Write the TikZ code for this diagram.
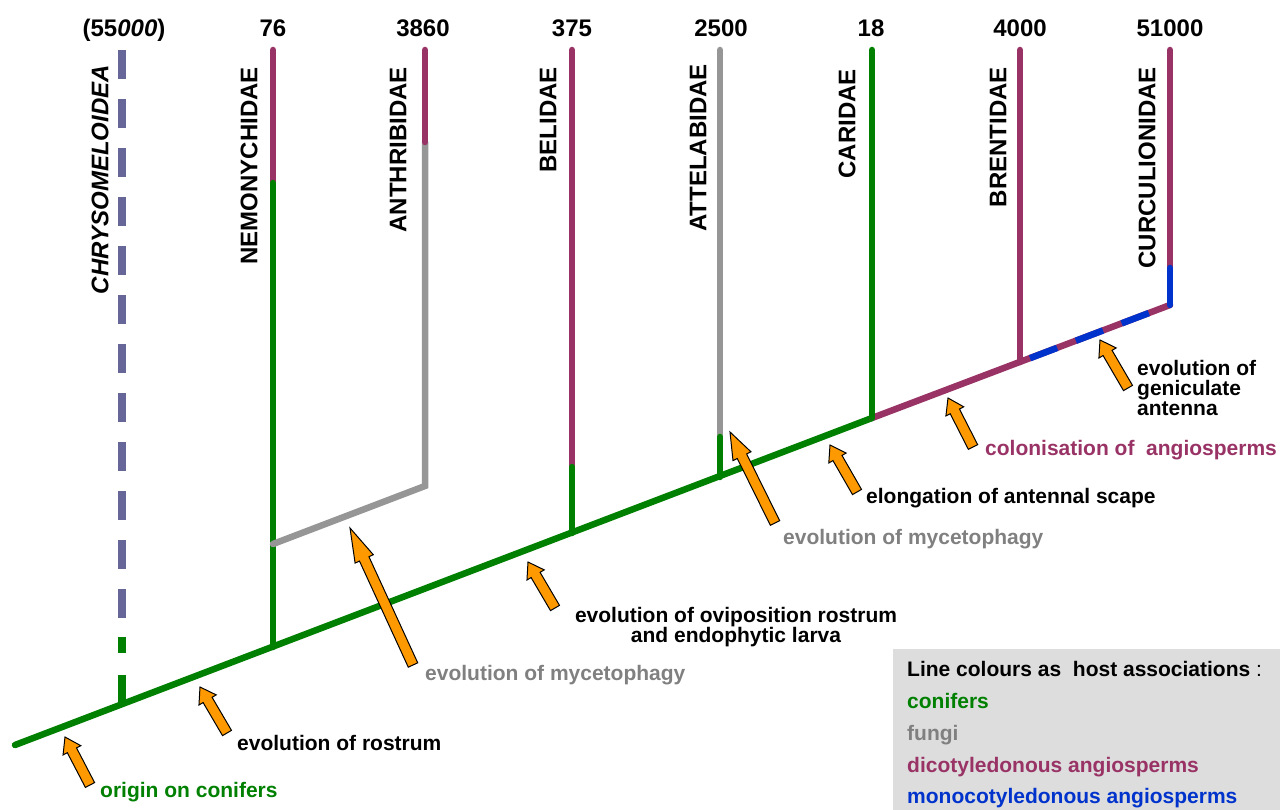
\documentclass[tikz,border=0pt]{standalone}
\usepackage{fontspec}
\setmainfont{Liberation Sans}
\usetikzlibrary{calc}
\definecolor{conifer}{HTML}{008000}
\definecolor{dicot}{HTML}{993366}
\definecolor{monocot}{HTML}{0033CC}
\definecolor{fungus}{HTML}{969696}
\definecolor{fungustext}{HTML}{808080}
\definecolor{chrysocol}{HTML}{666699}
\definecolor{evoorange}{HTML}{FF9900}
\definecolor{keygray}{HTML}{DDDDDD}
\tikzset{
  branch/.style={line width=6.5pt, line cap=round},
  taxon/.style={rotate=90, anchor=east, inner sep=0pt, font=\fontsize{24}{24}\selectfont\bfseries},
  count/.style={anchor=base, inner sep=0pt, font=\fontsize{24}{24}\selectfont\bfseries},
  note/.style={inner sep=0pt, font=\fontsize{21}{20}\selectfont\bfseries},
  keyline/.style={anchor=base west, inner sep=0pt, font=\fontsize{21}{21}\selectfont\bfseries},
  evo/.style={fill=evoorange, draw=black, line width=1pt, line join=miter}
}

\begin{document}
\begin{tikzpicture}[x=1pt, y=-1pt]
	\useasboundingbox (0,0) rectangle (1280,810);
	\fill[keygray] (893,649) rectangle (1280,810);

	% branch points on the backbone
	\coordinate (root) at (15,745);
	\coordinate (chry) at (122,705);
	\coordinate (nemo) at (273,647);
	\coordinate (beli) at (572,533);
	\coordinate (atte) at (720,477);
	\coordinate (cari) at (872,418);
	\coordinate (bren) at (1020,362);
	\coordinate (curc) at (1170,305);
	% tops and colour changes
	\coordinate (chrytop) at (122,50);
	\coordinate (chryswitch) at (122,620);
	\coordinate (chrygreen) at (122,637);
	\coordinate (nemotop) at (273,50);
	\coordinate (nemoswitch) at (273,183);
	\coordinate (anth) at (273,544);
	\coordinate (anjoin) at (425,486);
	\coordinate (anthswitch) at (425,142);
	\coordinate (anthtop) at (425,50);
	\coordinate (belitop) at (572,50);
	\coordinate (beliswitch) at (572,467);
	\coordinate (attetop) at (720,50);
	\coordinate (atteswitch) at (720,437);
	\coordinate (caritop) at (872,50);
	\coordinate (brentop) at (1020,50);
	\coordinate (curctop) at (1170,50);
	\coordinate (curcswitch) at (1170,268);

	% backbone
	\draw[branch, conifer] (root) -- (cari);
	\draw[branch, dicot] (cari) -- (curc);
	\draw[monocot, line width=6.5pt, dash pattern=on 29pt off 20pt] ($(bren)!0.067!(curc)$) -- ($(bren)!0.867!(curc)$);

	% Chrysomeloidea
	\draw[chrysocol, line width=7.5pt, dash pattern=on 29pt off 20pt] (chrytop) -- (chryswitch);
	\draw[conifer, line width=7.5pt, dash pattern=on 16pt off 22pt on 40pt off 10pt] (chrygreen) -- (chry);

	% weevil families
	\draw[branch, dicot] (nemotop) -- (nemoswitch);
	\draw[branch, conifer] (nemoswitch) -- (nemo);
	\draw[branch, fungus] (anth) -- (anjoin) -- (anthswitch);
	\draw[branch, dicot] (anthtop) -- (anthswitch);
	\draw[branch, dicot] (belitop) -- (beliswitch);
	\draw[branch, conifer] (beliswitch) -- (beli);
	\draw[branch, fungus] (attetop) -- (atteswitch);
	\draw[branch, conifer] (atteswitch) -- (atte);
	\draw[branch, conifer] (caritop) -- (cari);
	\draw[branch, dicot] (brentop) -- (bren);
	\draw[branch, dicot] (curctop) -- (curcswitch);
	\draw[branch, monocot] (curcswitch) -- (curc);

	% species numbers
	\node[count] (nchry) at (124,36.7) {(55\textit{000})};
	\node[count] (nnemo) at (273,36.7) {76};
	\node[count] (nanth) at (423,36.7) {3860};
	\node[count] (nbeli) at (572,36.7) {375};
	\node[count] (natte) at (721,36.7) {2500};
	\node[count] (ncari) at (871,36.7) {18};
	\node[count] (nbren) at (1020,36.7) {4000};
	\node[count] (ncurc) at (1170,36.7) {51000};

	% family names
	\node[taxon] (tchry) at (100,65) {\itshape CHRYSOMELOIDEA};
	\node[taxon] (tnemo) at (249,67) {NEMONYCHIDAE};
	\node[taxon] (tanth) at (398,67) {ANTHRIBIDAE};
	\node[taxon] (tbeli) at (548,67) {BELIDAE};
	\node[taxon] (tatte) at (698,64) {ATTELABIDAE};
	\node[taxon] (tcari) at (847,69) {CARIDAE};
	\node[taxon] (tbren) at (998,67) {BRENTIDAE};
	\node[taxon] (tcurc) at (1147,67) {CURCULIONIDAE};

	% evolutionary events
	\foreach \tx/\ty/\sx/\sy/\hl in {65/737/90/785/15pt, 200/687/227/733/15pt,
		350/528/413/665/34pt, 528/562/555/608/15pt, 730/432/775/523/27pt,
		830/445/857/492/15pt, 948/398/973/447/15pt, 1100/340/1128/388/15pt}
	\filldraw[evo] (\tx,\ty)
		-- ($(\tx,\ty)!\hl!(\sx,\sy)!10pt!90:(\sx,\sy)$)
		-- ($(\tx,\ty)!\hl!(\sx,\sy)!5.2pt!90:(\sx,\sy)$)
		-- ($(\sx,\sy)!5.2pt!-90:(\tx,\ty)$)
		-- ($(\sx,\sy)!5.2pt!90:(\tx,\ty)$)
		-- ($(\tx,\ty)!\hl!(\sx,\sy)!5.2pt!-90:(\sx,\sy)$)
		-- ($(\tx,\ty)!\hl!(\sx,\sy)!10pt!-90:(\sx,\sy)$)
		-- cycle;

	\node[note, anchor=base west, text=conifer] (origin) at (100,797) {origin on conifers};
	\node[note, anchor=base west] (rostrum) at (237,750) {evolution of rostrum};
	\node[note, anchor=base west, text=fungustext] (myco) at (425,680) {evolution of mycetophagy};
	\node[note, align=center] (ovipos) at (736,627.5) {evolution of oviposition rostrum\\and endophytic larva};
	\node[note, anchor=base west, text=fungustext] (mycob) at (783,544) {evolution of mycetophagy};
	\node[note, anchor=base west] (scape) at (866,503) {elongation of antennal scape};
	\node[note, anchor=base west, text=dicot] (angio) at (985,455) {colonisation of\ \ angiosperms};
	\node[note, align=left, anchor=west] (genic) at (1137,388.4) {evolution of\\geniculate\\antenna};

	% key
	\node[keyline] (keytitle) at (907,676.5) {Line colours as\ \ host associations \textmd{:}};
	\node[keyline, text=conifer] (keycon) at (907,708) {conifers};
	\node[keyline, text=fungustext] (keyfun) at (907,740) {fungi};
	\node[keyline, text=dicot] (keydic) at (907,772) {dicotyledonous angiosperms};
	\node[keyline, text=monocot] (keymon) at (907,803.5) {monocotyledonous angiosperms};
\end{tikzpicture}
\end{document}
